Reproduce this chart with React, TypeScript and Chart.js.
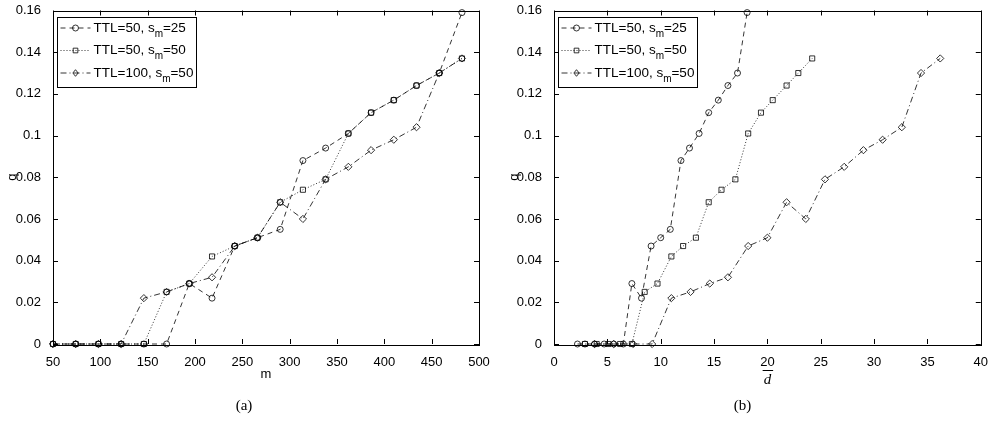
import React, { useEffect, useRef } from "react";
import { Chart, registerables } from "chart.js";
Chart.register(...registerables);

// ---- data ----
const mValues = [50, 74, 98, 122, 146, 170, 194, 218, 242, 266, 290, 314, 338, 362, 386, 410, 434, 458, 482];
const qCircle = [0, 0, 0, 0, 0, 0, 0.029, 0.022, 0.047, 0.051, 0.055, 0.088, 0.094, 0.101, 0.111, 0.117, 0.124, 0.13, 0.159];
const qSquare = [0, 0, 0, 0, 0, 0.025, 0.029, 0.042, 0.047, 0.051, 0.068, 0.074, 0.079, 0.101, 0.111, 0.117, 0.124, 0.13, 0.137];
const qDiamond = [0, 0, 0, 0, 0.022, 0.025, 0.029, 0.032, 0.047, 0.051, 0.068, 0.06, 0.079, 0.085, 0.093, 0.098, 0.104, 0.13, 0.137];
const dCircle = [2.2, 2.9, 3.8, 4.7, 5.6, 6.5, 7.3, 8.2, 9.1, 10.0, 10.9, 11.9, 12.7, 13.6, 14.5, 15.4, 16.3, 17.2, 18.1];
const dSquare = [2.9, 4.0, 5.1, 6.2, 7.3, 8.5, 9.7, 11.0, 12.1, 13.3, 14.5, 15.7, 17.0, 18.2, 19.4, 20.5, 21.8, 22.9, 24.2];
const dDiamond = [3.8, 5.6, 7.4, 9.2, 11.0, 12.8, 14.6, 16.3, 18.2, 20.0, 21.8, 23.6, 25.4, 27.2, 29.0, 30.8, 32.6, 34.4, 36.2];

const yTickValues = [0, 0.02, 0.04, 0.06, 0.08, 0.1, 0.12, 0.14, 0.16];
const mTickValues = [50, 100, 150, 200, 250, 300, 350, 400, 450, 500];
const dTickValues = [0, 5, 10, 15, 20, 25, 30, 35, 40];

const legendText = [
  ["TTL=50, s", "m", "=25"],
  ["TTL=50, s", "m", "=50"],
  ["TTL=100, s", "m", "=50"],
];
const yTitle = "q";
const xTitleLeft = "m";
const xTitleRight = "d";
const captionLeft = "(a)";
const captionRight = "(b)";

// ---- styles ----
const seriesStyles = [
  { pointStyle: "circle", radius: 3, dash: [5, 4] },
  { pointStyle: "rect", radius: 3.6, dash: [1, 2] },
  { pointStyle: "rectRot", radius: 3.6, dash: [6, 3, 1, 3] },
];
const SANS = "'Liberation Sans', Arial, Helvetica, sans-serif";
const SERIF = "'Liberation Serif', 'Times New Roman', serif";

function drawMarker(ctx: CanvasRenderingContext2D, style: string, x: number, y: number, r: number) {
  ctx.beginPath();
  if (style === "circle") {
    ctx.arc(x, y, r, 0, Math.PI * 2);
  } else if (style === "rect") {
    const s = Math.SQRT1_2 * r;
    ctx.rect(x - s, y - s, 2 * s, 2 * s);
  } else {
    ctx.moveTo(x, y - r);
    ctx.lineTo(x + r * 0.8, y);
    ctx.lineTo(x, y + r);
    ctx.lineTo(x - r * 0.8, y);
    ctx.closePath();
  }
  ctx.stroke();
}

function makeFramePlugin(opts: { xTitle: string; caption: string; overline: boolean; qOffset: number; capShift: number }) {
  return {
    id: "frameDecor",
    afterDraw(chart: any) {
      const { ctx, chartArea: a, scales } = chart;
      ctx.save();
      // inward ticks
      ctx.strokeStyle = "#000";
      ctx.lineWidth = 1;
      ctx.setLineDash([]);
      const L = 5;
      scales.x.ticks.forEach((t: any) => {
        const px = Math.round(scales.x.getPixelForValue(t.value)) + 0.5;
        ctx.beginPath();
        ctx.moveTo(px, a.bottom);
        ctx.lineTo(px, a.bottom - L);
        ctx.moveTo(px, a.top);
        ctx.lineTo(px, a.top + L);
        ctx.stroke();
      });
      scales.y.ticks.forEach((t: any) => {
        const py = Math.round(scales.y.getPixelForValue(t.value)) + 0.5;
        ctx.beginPath();
        ctx.moveTo(a.left, py);
        ctx.lineTo(a.left + L, py);
        ctx.moveTo(a.right, py);
        ctx.lineTo(a.right - L, py);
        ctx.stroke();
      });
      // box
      ctx.strokeRect(Math.round(a.left) + 0.5, Math.round(a.top) + 0.5, Math.round(a.right - a.left), Math.round(a.bottom - a.top));

      // legend
      const bx = Math.round(a.left) + 4.5;
      const by = Math.round(a.top) + 6.5;
      const bw = 139;
      const bh = 70;
      ctx.fillStyle = "#fff";
      ctx.fillRect(bx, by, bw, bh);
      ctx.strokeStyle = "#000";
      ctx.lineWidth = 1;
      ctx.strokeRect(bx, by, bw, bh);
      legendText.forEach((parts, i) => {
        const st = seriesStyles[i];
        const cy = by + 10.5 + i * 22.5;
        ctx.strokeStyle = "#000";
        ctx.lineWidth = 0.8;
        ctx.setLineDash(st.dash);
        ctx.beginPath();
        ctx.moveTo(bx + 3, cy);
        ctx.lineTo(bx + 33, cy);
        ctx.stroke();
        ctx.setLineDash([]);
        drawMarker(ctx, st.pointStyle, bx + 18, cy, st.pointStyle === "circle" ? 3 : 3.3);
        ctx.fillStyle = "#000";
        ctx.textBaseline = "middle";
        ctx.textAlign = "left";
        ctx.font = `13.5px ${SANS}`;
        let tx = bx + 36;
        ctx.fillText(parts[0], tx, cy);
        tx += ctx.measureText(parts[0]).width;
        ctx.font = `10px ${SANS}`;
        ctx.fillText(parts[1], tx, cy + 6);
        tx += ctx.measureText(parts[1]).width;
        ctx.font = `13.5px ${SANS}`;
        ctx.fillText(parts[2], tx, cy);
      });

      // titles
      const cx = (a.left + a.right) / 2;
      ctx.fillStyle = "#000";
      ctx.textAlign = "center";
      ctx.textBaseline = "middle";
      if (opts.overline) {
        ctx.font = `italic 15px ${SERIF}`;
        ctx.fillText(opts.xTitle, cx, 380);
        const w = ctx.measureText(opts.xTitle).width;
        ctx.lineWidth = 1;
        ctx.beginPath();
        ctx.moveTo(cx - w / 2 - 1, 370.5);
        ctx.lineTo(cx + w / 2 + 2, 370.5);
        ctx.stroke();
      } else {
        ctx.font = `13px ${SANS}`;
        ctx.fillText(opts.xTitle, cx, 374);
      }
      ctx.font = `15px ${SERIF}`;
      ctx.fillText(opts.caption, cx + opts.capShift, 406);
      // y title
      ctx.save();
      ctx.translate(a.left - opts.qOffset, (a.top + a.bottom) / 2);
      ctx.rotate(-Math.PI / 2);
      ctx.font = `13px ${SANS}`;
      ctx.fillText(yTitle, 0, 0);
      ctx.restore();
      ctx.restore();
    },
  };
}

function buildConfig(
  xs: number[][],
  ys: number[][],
  xMin: number,
  xMax: number,
  xTicks: number[],
  yWidth: number,
  padRight: number,
  padTop: number,
  plugin: any
): any {
  const fixTicks = (vals: number[]) => (scale: any) => {
    scale.ticks = vals.map((v) => ({ value: v }));
  };
  const fmt = (v: any) => String(parseFloat(Number(v).toFixed(2)));
  return {
    type: "scatter",
    data: {
      datasets: ys.map((yv, i) => ({
        label: legendText[i].join(""),
        data: yv.map((y, j) => ({ x: xs[i][j], y })),
        showLine: true,
        borderColor: "#000",
        borderWidth: 0.8,
        borderDash: seriesStyles[i].dash,
        pointStyle: seriesStyles[i].pointStyle,
        pointRadius: seriesStyles[i].radius,
        pointBorderColor: "#000",
        pointBorderWidth: 0.8,
        pointBackgroundColor: "rgba(0,0,0,0)",
        clip: false,
      })),
    },
    options: {
      responsive: false,
      animation: false,
      layout: { padding: { left: 0, right: padRight, top: padTop, bottom: 0 } },
      plugins: { legend: { display: false }, tooltip: { enabled: false } },
      scales: {
        x: {
          type: "linear",
          min: xMin,
          max: xMax,
          afterBuildTicks: fixTicks(xTicks),
          afterFit: (s: any) => {
            s.height = 78;
          },
          grid: { display: false },
          border: { display: false },
          ticks: {
            padding: 4,
            maxRotation: 0,
            autoSkip: false,
            color: "#000",
            font: { family: SANS, size: 13, lineHeight: 1 },
            callback: fmt,
          },
        },
        y: {
          type: "linear",
          min: 0,
          max: 0.16,
          afterBuildTicks: fixTicks(yTickValues),
          afterFit: (s: any) => {
            s.width = yWidth;
          },
          grid: { display: false },
          border: { display: false },
          ticks: {
            padding: 4,
            autoSkip: false,
            color: "#000",
            font: { family: SANS, size: 13, lineHeight: 1 },
            callback: fmt,
          },
        },
      },
    },
    plugins: [plugin],
  };
}

export default function App() {
  const leftRef = useRef<HTMLCanvasElement>(null);
  const rightRef = useRef<HTMLCanvasElement>(null);

  useEffect(() => {
    const left = new Chart(
      leftRef.current as HTMLCanvasElement,
      buildConfig(
        [mValues, mValues, mValues],
        [qCircle, qSquare, qDiamond],
        50,
        500,
        mTickValues,
        53,
        17,
        9,
        makeFramePlugin({ xTitle: xTitleLeft, caption: captionLeft, overline: false, qOffset: 41, capShift: -22 })
      )
    );
    const right = new Chart(
      rightRef.current as HTMLCanvasElement,
      buildConfig(
        [dCircle, dSquare, dDiamond],
        [qCircle, qSquare, qDiamond],
        0,
        40,
        dTickValues,
        58,
        9,
        6,
        makeFramePlugin({ xTitle: xTitleRight, caption: captionRight, overline: true, qOffset: 40, capShift: -25 })
      )
    );
    return () => {
      left.destroy();
      right.destroy();
    };
  }, []);

  return (
    <div style={{ position: "fixed", left: 0, top: 0, width: 992, height: 422, background: "#fff" }}>
      <canvas ref={leftRef} width={496} height={422} style={{ position: "absolute", left: 0, top: 0 }} />
      <canvas ref={rightRef} width={496} height={422} style={{ position: "absolute", left: 496, top: 0 }} />
    </div>
  );
}
